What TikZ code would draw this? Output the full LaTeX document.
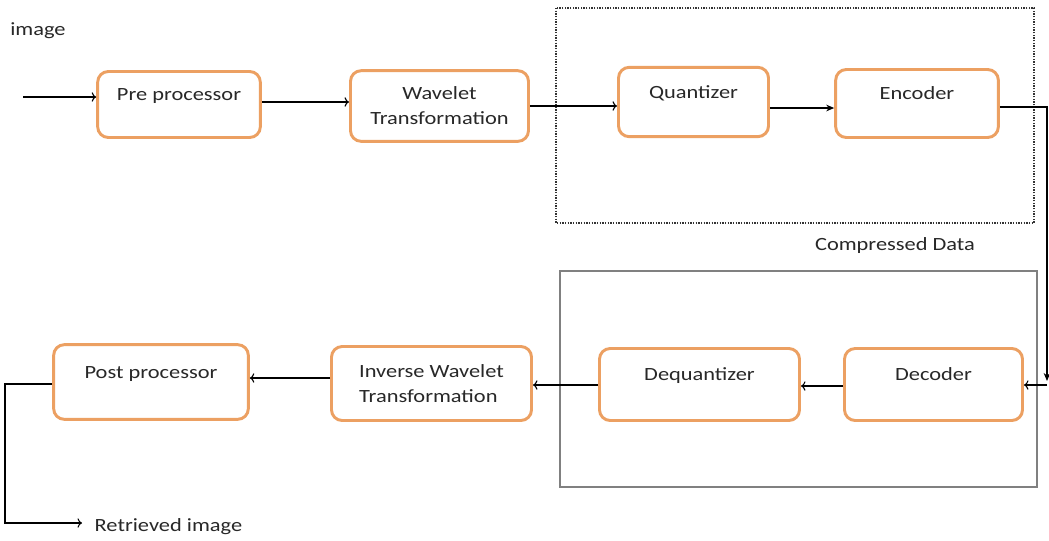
\documentclass[tikz,border=0pt]{standalone}
\usepackage{fontspec}
\setmainfont{Carlito}[FakeStretch=1.2]
\usetikzlibrary{arrows.meta}
\definecolor{boxorange}{RGB}{236,160,98}
\definecolor{framegray}{RGB}{128,128,128}
\definecolor{txtgray}{RGB}{40,40,40}
\tikzset{
  blk/.style={draw=boxorange, line width=2.2pt, rounded corners=8pt, text=txtgray,
    font=\fontsize{14}{18.75}\selectfont, text height=9pt, text depth=15pt},
  blktwo/.style={draw=boxorange, line width=2.2pt, rounded corners=8pt, text=txtgray,
    font=\fontsize{14}{18.75}\selectfont},
  lbl/.style={text=txtgray, font=\fontsize{14}{16}\selectfont},
  conn/.style={line width=0.8pt, ->},
}
\begin{document}
\begin{tikzpicture}[x=0.75pt,y=-0.75pt]
    \useasboundingbox[fill=white] (0,0) rectangle (1049,540);
    % compression side
    \draw[black!80, line width=1.2pt, dash pattern=on 1pt off 1pt] (556,8) rectangle (1034,223);
    \node[lbl] (img) at (38,31) {image};
    \node[blk, minimum width=122pt, minimum height=49.5pt] (pre) at (179,104.5) {Pre processor};
    \node[blktwo, align=center, minimum width=133.5pt, minimum height=53pt] (wav) at (439.5,106) {Wavelet\\ Transformation};
    \node[blk, minimum width=112.5pt, minimum height=52pt] (quan) at (693.5,102) {Quantizer};
    \node[blk, minimum width=122pt, minimum height=51pt] (enc) at (917,103.5) {Encoder};
    \node[lbl] (cdata) at (895,246) {Compressed Data};
    % decompression side
    \draw[framegray, line width=0.9pt] (560,271) rectangle (1037,487);
    \node[blk, minimum width=133.5pt, minimum height=54pt] (dec) at (933.5,384.5) {Decoder};
    \node[blk, minimum width=150pt, minimum height=54pt] (deq) at (699.5,384.5) {Dequantizer};
    \node[blktwo, align=left, minimum width=150pt, minimum height=55.5pt] (inv) at (431.5,383.5) {Inverse Wavelet\\ Transformation};
    \node[blk, minimum width=146pt, minimum height=56pt] (post) at (151,382) {Post processor};
    \node[lbl, anchor=west] (ret) at (90,527) {Retrieved image};
    % connectors
    \coordinate (in) at (23,97);
    \coordinate (turn) at (1047,381);
    \coordinate (tap) at (1047,385);
    \coordinate (out) at (82,523);
    \draw[conn] (in) -- (pre.west |- in);
    \draw[conn] (pre.east |- 0,102) -- (wav.west |- 0,102);
    \draw[conn] (wav.east |- 0,106) -- (quan.west |- 0,106);
    \draw[line width=0.8pt, -{Stealth[length=6pt,width=5pt]}] (quan.east |- 0,108) -- (enc.west |- 0,108);
    \draw[line width=0.8pt, -{Stealth[length=6pt,width=5pt]}] (enc.east |- 0,107) -| (turn);
    \draw[conn] (tap) -- (dec.east |- tap);
    \draw[conn] (dec.west |- 0,386) -- (deq.east |- 0,386);
    \draw[conn] (deq.west |- 0,385) -- (inv.east |- 0,385);
    \draw[conn] (inv.west |- 0,378) -- (post.east |- 0,378);
    \draw[conn] (post.west |- 0,384) -- (5,384) -- (5,523) -- (out);
\end{tikzpicture}
\end{document}
